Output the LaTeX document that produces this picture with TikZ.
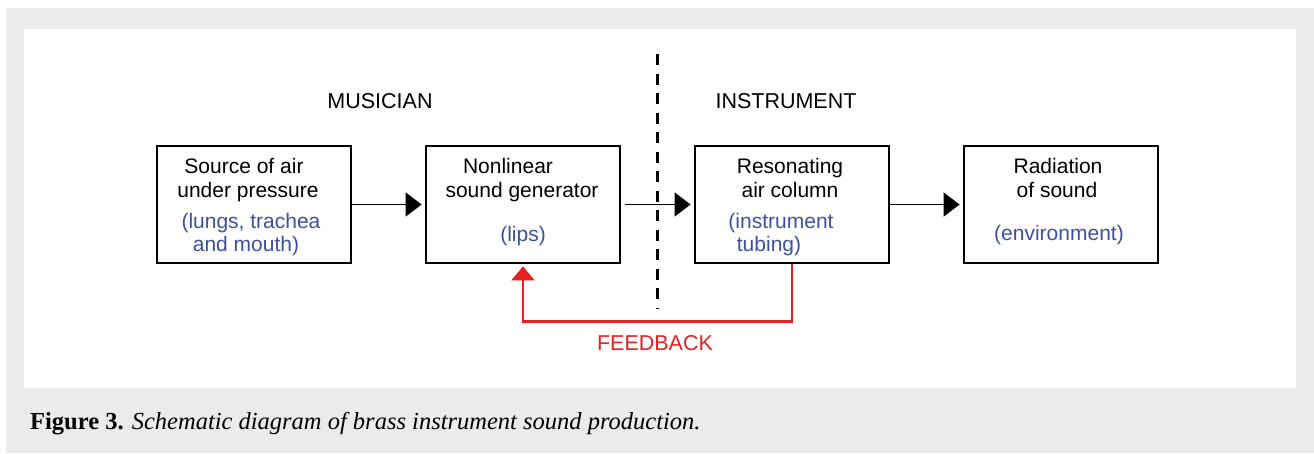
\documentclass[tikz,border=0pt]{standalone}
\usepackage{fontspec}
\setmainfont{Liberation Serif}
\newfontfamily\labelfont{Liberation Sans}
\usetikzlibrary{arrows.meta}
\definecolor{panelgray}{RGB}{235,235,235}
\definecolor{noteblue}{RGB}{62,80,160}
\definecolor{fbred}{RGB}{232,32,32}
\tikzset{
  blockbox/.style={draw=black,line width=2.8pt,minimum width=194pt,minimum height=117pt,inner sep=0pt},
  maintxt/.style={font=\labelfont\fontsize{21}{25}\selectfont,text=black,anchor=base},
  notetxt/.style={font=\labelfont\fontsize{21}{25}\selectfont,text=noteblue,anchor=base},
  sidetxt/.style={font=\labelfont\fontsize{21.5}{25}\selectfont,text=black,anchor=base},
  flow/.style={line width=1.5pt,-{Triangle[length=16pt,width=24pt]},shorten >=3pt},
  fbline/.style={draw=fbred,line width=2.4pt,-{Triangle[length=14pt,width=23pt]},shorten >=2pt},
  divider/.style={line width=3pt,dash pattern=on 11pt off 8.5pt}
}
\begin{document}
\begin{tikzpicture}[x=1pt,y=-1pt]
\useasboundingbox (0,0) rectangle (1314,453);
\fill[white] (0,0) rectangle (1314,453);
\fill[panelgray] (6,8) rectangle (1314,453);
\fill[white] (24,29) rectangle (1296,388);

% boxes
\node[blockbox] (b1) at (254,204.5) {};
\node[blockbox] (b2) at (523,204.5) {};
\node[blockbox] (b3) at (792,204.5) {};
\node[blockbox] (b4) at (1061,204.5) {};

% texts box 1
\node[maintxt] (t1a) at (244,173) {Source of air};
\node[maintxt] (t1b) at (248,197) {under pressure};
\node[notetxt] (t1c) at (251,228) {(lungs, trachea};
\node[notetxt] (t1d) at (246,251) {and mouth)};
% box 2
\node[maintxt] (t2a) at (508,173) {Nonlinear};
\node[maintxt] (t2b) at (522,197) {sound generator};
\node[notetxt] (t2c) at (523,241) {(lips)};
% box 3
\node[maintxt] (t3a) at (790,173) {Resonating};
\node[maintxt] (t3b) at (790,197) {air column};
\node[notetxt] (t3c) at (781,228) {(instrument};
\node[notetxt] (t3d) at (769,251) {tubing)};
% box 4
\node[maintxt] (t4a) at (1058,173) {Radiation};
\node[maintxt] (t4b) at (1057,197) {of sound};
\node[notetxt] (t4c) at (1059,240) {(environment)};

% headers
\node[sidetxt] (mus) at (380,108) {MUSICIAN};
\node[sidetxt] (ins) at (786,108) {INSTRUMENT};

% divider
\coordinate (dtop) at (657,54);
\coordinate (dbot) at (657,309);
\draw[divider] (dtop) -- (dbot);

% flow arrows
\draw[flow] (b1.east) -- (b2.west);
\draw[flow] ([xshift=4pt]b2.east) -- (b3.west);
\draw[flow] (b3.east) -- (b4.west);

% feedback
\draw[fbline] (b3.south) -- ++(0,57) -| (b2.south);
\node[font=\labelfont\fontsize{21.5}{25}\selectfont,text=fbred,anchor=base] (fb) at (655,350) {FEEDBACK};

% caption
\node[anchor=base west,inner sep=0pt,font=\fontsize{24.5}{28}\selectfont] (cap) at (30,429) {\textbf{Figure 3.} \textit{Schematic diagram of brass instrument sound production.}};
\end{tikzpicture}
\end{document}
